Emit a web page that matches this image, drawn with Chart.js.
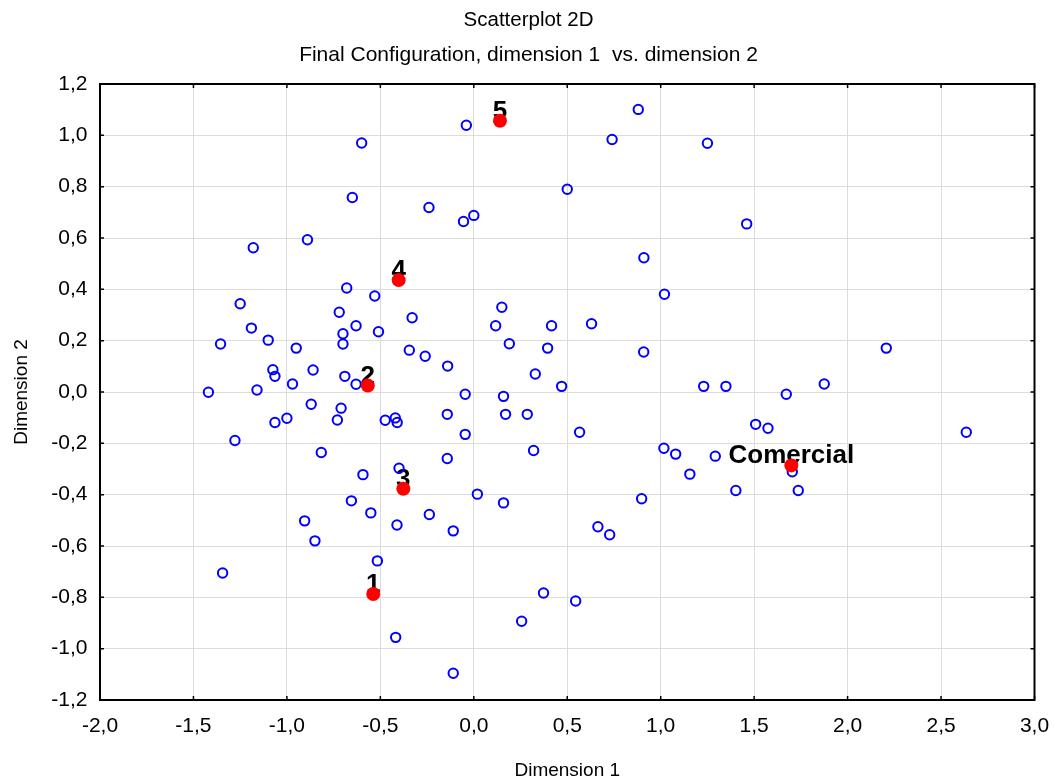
<!DOCTYPE html>
<html>
<head>
<meta charset="utf-8">
<title>Scatterplot 2D</title>
<script src="https://cdn.jsdelivr.net/npm/chart.js@4/dist/chart.umd.min.js"></script>
<style>
  html, body { margin: 0; padding: 0; background: #ffffff; }
  #wrap { width: 1057px; height: 780px; }
</style>
</head>
<body>
<div id="wrap"><canvas id="c" width="1057" height="780"></canvas></div>
<script>
// Final configuration coordinates (dimension 1, dimension 2) of the objects
const objDim1 = [
  -0.60, -0.65, -1.18, -0.89, -0.68, -0.53, -1.25, -0.72, -0.04, 0.88,
   0.74,  1.25,  0.50, -0.24, -0.055, 0.00,  0.91,  1.02,  0.15,  1.46,
  -0.33, -1.19, -0.63, -0.70, -0.51, -1.10, -1.355, -0.70, -0.95, -0.345,
  -0.26, -0.14, -1.075, -0.86, -1.064, -0.69, -0.97, -0.63, -1.42, -1.16,
  -0.046, -0.87, -0.71, -1.00, -1.064, -0.73, -0.474, -0.42, -0.41, -0.142,
  -0.046, -1.278, -0.816, -0.142, -0.40, -0.593, 0.019, 0.117, 0.416, 0.63,
   0.19,  0.395, 0.909, 0.329, 0.47,  1.23,  0.159, 0.17,  0.286, 0.566,
   0.32,  1.017, 1.08,  1.292, 1.156, 2.207, 1.349, 1.672, 1.875, 1.508,
   1.574, 2.635, 1.704, 1.402, 1.736, -0.655, -0.551, -0.411, -0.238, -0.110,
  -0.905, -0.85, -0.516, -1.344, -0.418, -0.110, 0.159, 0.898, 0.664, 0.727,
   0.373, 0.545, 0.256
];
const objDim2 = [
   0.97,  0.758, 0.562, 0.593, 0.405, 0.374, 0.344, 0.311, 1.039, 1.101,
   0.984, 0.969, 0.790, 0.719, 0.664, 0.688, 0.523, 0.381, 0.330, 0.655,
   0.289, 0.249, 0.258, 0.227, 0.235, 0.202, 0.187, 0.187, 0.171, 0.163,
   0.139, 0.101, 0.087, 0.086, 0.061, 0.061, 0.031, 0.030, -0.001, 0.008,
  -0.009, -0.048, -0.063, -0.102, -0.119, -0.109, -0.110, -0.101, -0.119, -0.087,
  -0.165, -0.189, -0.236, -0.259, -0.297, -0.322, -0.398, 0.258, 0.258, 0.266,
   0.188, 0.171, 0.156, 0.070, 0.022, 0.022, -0.017, -0.087, -0.087, -0.157,
  -0.228, -0.219, -0.242, -0.250, -0.320, 0.171, 0.022, -0.009, 0.031, -0.126,
  -0.141, -0.157, -0.311, -0.384, -0.384, -0.424, -0.471, -0.518, -0.477, -0.541,
  -0.502, -0.580, -0.658, -0.705, -0.956, -1.096, -0.432, -0.416, -0.525, -0.556,
  -0.783, -0.814, -0.893
];

// Labelled reference points
const refLabels = ['1', '2', '3', '4', '5', 'Comercial'];
const refDim1 = [-0.538, -0.567, -0.377, -0.402, 0.140, 1.699];
const refDim2 = [-0.787, 0.025, -0.377, 0.436, 1.057, -0.286];

// Axis ranges and tick steps
const xRange = [-2.0, 3.0];
const xStep = 0.5;
const yRange = [-1.2, 1.2];
const yStep = 0.2;

const FONT = "'Liberation Sans', Arial, Helvetica, sans-serif";

const toPoints = (xs, ys) => xs.map((x, i) => ({ x: x, y: ys[i] }));
const commaDecimal = v => (Math.round(v * 10) / 10).toFixed(1).replace('.', ',');

// Frame around the plot area with inward tick marks on all four sides
const framePlugin = {
  id: 'frame',
  beforeDatasetsDraw(chart) {
    const { ctx, chartArea: a, scales } = chart;
    const tl = 4;
    ctx.save();
    ctx.strokeStyle = '#000000';
    ctx.lineWidth = 1.5;
    ctx.beginPath();
    scales.x.ticks.forEach(t => {
      const px = scales.x.getPixelForValue(t.value);
      ctx.moveTo(px, a.bottom); ctx.lineTo(px, a.bottom - tl);
      ctx.moveTo(px, a.top); ctx.lineTo(px, a.top + tl);
    });
    scales.y.ticks.forEach(t => {
      const py = scales.y.getPixelForValue(t.value);
      ctx.moveTo(a.left, py); ctx.lineTo(a.left + tl, py);
      ctx.moveTo(a.right, py); ctx.lineTo(a.right - tl, py);
    });
    ctx.stroke();
    ctx.lineWidth = 2;
    ctx.strokeRect(a.left, a.top, a.right - a.left, a.bottom - a.top);
    ctx.restore();
  }
};

// Bold names above the highlighted points (drawn beneath the dots)
const pointLabelPlugin = {
  id: 'pointLabels',
  beforeDatasetsDraw(chart) {
    const { ctx } = chart;
    const meta = chart.getDatasetMeta(0);
    ctx.save();
    ctx.font = "bold 26px " + FONT;
    ctx.fillStyle = '#000000';
    ctx.textAlign = 'center';
    ctx.textBaseline = 'alphabetic';
    meta.data.forEach((el, i) => {
      ctx.fillText(refLabels[i], el.x, el.y - 2);
    });
    ctx.restore();
  }
};

new Chart(document.getElementById('c'), {
  type: 'scatter',
  data: {
    datasets: [
      {
        label: 'Reference',
        data: toPoints(refDim1, refDim2),
        backgroundColor: 'rgb(255,0,0)',
        borderColor: 'rgb(255,0,0)',
        borderWidth: 0,
        pointRadius: 7,
        pointHoverRadius: 7,
        order: 0
      },
      {
        label: 'Objects',
        data: toPoints(objDim1, objDim2),
        backgroundColor: 'rgba(0,0,0,0)',
        borderColor: 'rgb(0,0,255)',
        borderWidth: 2,
        pointRadius: 4.7,
        pointHoverRadius: 4.7,
        order: 1
      }
    ]
  },
  options: {
    responsive: false,
    animation: false,
    layout: { padding: 0 },
    plugins: {
      legend: { display: false },
      tooltip: { enabled: false },
      title: {
        display: true,
        text: 'Scatterplot 2D',
        color: '#000000',
        font: { family: FONT, size: 20.5, weight: 'normal', lineHeight: 1.2 },
        padding: { top: 8, bottom: 9.8 }
      },
      subtitle: {
        display: true,
        text: 'Final Configuration, dimension 1  vs. dimension 2',
        color: '#000000',
        font: { family: FONT, size: 21, weight: 'normal', lineHeight: 1.2 },
        padding: { top: 0, bottom: 16.4 }
      }
    },
    scales: {
      x: {
        type: 'linear',
        position: 'bottom',
        min: xRange[0],
        max: xRange[1],
        afterFit: s => { s.height = 80; s.paddingLeft = 0; s.paddingRight = 22.5; },
        border: { display: false },
        grid: { color: 'rgb(220,220,220)', lineWidth: 1, drawTicks: false },
        ticks: {
          stepSize: xStep,
          padding: 14,
          color: '#000000',
          font: { family: FONT, size: 21 },
          maxRotation: 0,
          autoSkip: false,
          callback: v => commaDecimal(v)
        },
        title: {
          display: true,
          text: 'Dimension 1',
          color: '#000000',
          font: { family: FONT, size: 19, lineHeight: 1 },
          padding: { top: 0, bottom: 0 }
        }
      },
      y: {
        type: 'linear',
        position: 'left',
        min: yRange[0],
        max: yRange[1],
        afterFit: s => { s.width = 100; s.paddingTop = 0; s.paddingBottom = 0; },
        border: { display: false },
        grid: { color: 'rgb(220,220,220)', lineWidth: 1, drawTicks: false },
        ticks: {
          stepSize: yStep,
          padding: 12.5,
          color: '#000000',
          font: { family: FONT, size: 21 },
          autoSkip: false,
          callback: v => commaDecimal(v)
        },
        title: {
          display: true,
          text: 'Dimension 2',
          color: '#000000',
          font: { family: FONT, size: 19, lineHeight: 1 },
          padding: { top: 12.5, bottom: 0 }
        }
      }
    }
  },
  plugins: [framePlugin, pointLabelPlugin]
});
</script>
</body>
</html>
